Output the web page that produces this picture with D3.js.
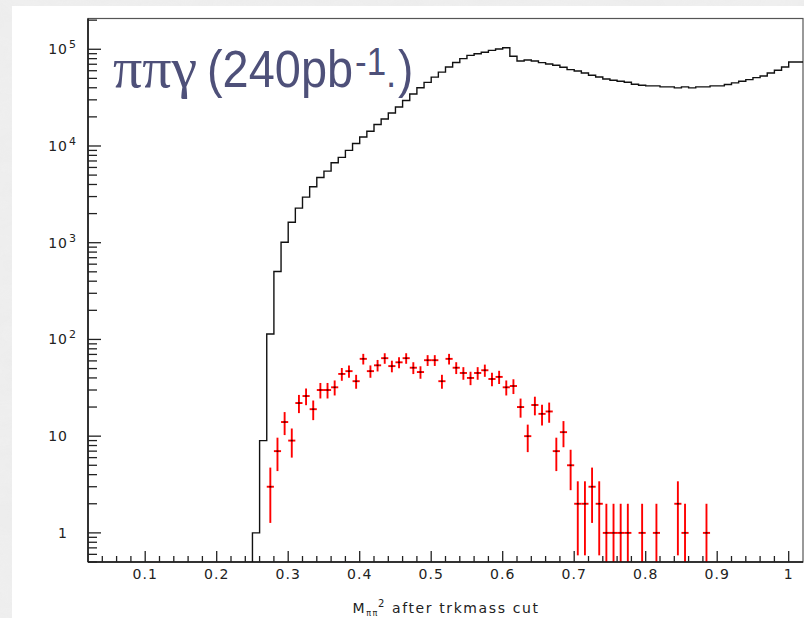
<!DOCTYPE html>
<html><head><meta charset="utf-8">
<script src="https://cdn.jsdelivr.net/npm/d3@7/dist/d3.min.js"></script>
<style>html,body{margin:0;padding:0;background:#e9e9e9;}svg{display:block;}</style>
</head><body>
<script>
// ---------------- data ----------------
const histBinWidth = 0.01;
const histBinLow = [0.25,0.26,0.27,0.28,0.29,0.30,0.31,0.32,0.33,0.34,0.35,0.36,0.37,0.38,0.39,
  0.40,0.41,0.42,0.43,0.44,0.45,0.46,0.47,0.48,0.49,0.50,0.51,0.52,0.53,0.54,0.55,0.56,0.57,0.58,0.59,
  0.60,0.61,0.62,0.63,0.64,0.65,0.66,0.67,0.68,0.69,0.70,0.71,0.72,0.73,0.74,0.75,0.76,0.77,0.78,0.79,
  0.80,0.81,0.82,0.83,0.84,0.85,0.86,0.87,0.88,0.89,0.90,0.91,0.92,0.93,0.94,0.95,0.96,0.97,0.98,0.99,
  1.00,1.01];
const histCounts = [1,9,114,504,1010,1630,2280,2960,3790,4730,5500,6720,7620,9000,10600,
  12400,14200,16700,19000,21900,25300,29500,34500,40000,45500,51500,58000,65500,73000,80000,86500,90000,93000,97500,100500,
  103500,84700,75700,77500,75700,72800,70500,68300,65100,61600,59600,56800,53800,51700,49300,47800,46700,45600,43500,42500,
  41800,41800,40800,40800,39900,40800,39900,40800,40800,41800,41800,43200,44900,46700,48500,50900,53000,56800,60600,65600,
  73900,73900];

const redX = [0.275,0.285,0.295,0.305,0.315,0.325,0.335,0.345,0.355,0.365,0.375,0.385,0.395,0.405,0.415,
  0.425,0.435,0.445,0.455,0.465,0.475,0.485,0.495,0.505,0.515,0.525,0.535,0.545,0.555,0.565,0.575,0.585,
  0.595,0.605,0.615,0.625,0.635,0.645,0.655,0.665,0.675,0.685,0.695,0.705,0.715,0.725,0.735,0.745,0.755,
  0.765,0.775,0.795,0.815,0.845,0.855,0.885];
const redY = [3,7,14,9,22,26,19,30,30,32,44,47,37,63,47,
  54,64,53,58,64,51,46,61,61,37,63,51,45,40,45,48,39,
  41,32,33,20,10,21,17,18,7,11,5,2,2,3,2,1,1,
  1,1,1,1,2,1,1];

const xTickValues = [0.1,0.2,0.3,0.4,0.5,0.6,0.7,0.8,0.9,1];
const xTickLabels = ["0.1","0.2","0.3","0.4","0.5","0.6","0.7","0.8","0.9","1"];
const yTickValues = [1,10,100,1000,10000,100000];
const yTickBase = ["1","10","10","10","10","10"];
const yTickExp = ["","","2","3","4","5"];
const xDomain = [0.02, 1.02];
const yDomain = [0.5, 2.08e5];

// ---------------- layout ----------------
const W = 804, H = 618;
const L = 88, R = 803, T = 18.5, B = 562;

const svg = d3.select("body").append("svg").attr("width", W).attr("height", H);
const defs = svg.append("defs");
const filt = defs.append("filter").attr("id","marble").attr("x",0).attr("y",0).attr("width","100%").attr("height","100%");
filt.append("feTurbulence").attr("type","fractalNoise").attr("baseFrequency","0.015 0.03").attr("numOctaves",3).attr("seed",7);
filt.append("feColorMatrix").attr("type","matrix")
  .attr("values","0 0 0 0 0.9  0 0 0 0 0.9  0 0 0 0 0.9  0.35 0.35 0.35 0 -0.25");
svg.append("rect").attr("width",W).attr("height",H).attr("fill","#ececec");
svg.append("rect").attr("width",W).attr("height",H).attr("fill","#fff").attr("filter","url(#marble)").attr("opacity",0.9);
svg.append("rect").attr("x",12).attr("y",6).attr("width",W-12).attr("height",H-6).attr("fill","#fff");

const x = d3.scaleLinear().domain(xDomain).range([L, R]);
const y = d3.scaleLog().domain(yDomain).range([B, T]);
const yc = v => Math.min(B, Math.max(T, y(Math.max(v, yDomain[0]))));

const clip = defs.append("clipPath").attr("id","plot");
clip.append("rect").attr("x",L).attr("y",T).attr("width",R-L).attr("height",B-T);

// frame
svg.append("rect").attr("x",L).attr("y",T).attr("width",R-L).attr("height",B-T)
  .attr("fill","none").attr("stroke","#555").attr("stroke-width",1.2);

// histogram (black step line)
const g = svg.append("g").attr("clip-path","url(#plot)");
let p = d3.path();
p.moveTo(x(histBinLow[0]), B);
histBinLow.forEach((lo,i)=>{
  p.lineTo(x(lo), yc(histCounts[i]));
  p.lineTo(x(lo + histBinWidth), yc(histCounts[i]));
});
g.append("path").attr("d", p.toString()).attr("fill","none").attr("stroke","#111").attr("stroke-width",1.4);

// red points with errors
const pts = g.append("g");
redX.forEach((cx,i)=>{
  const v = redY[i], e = Math.sqrt(v);
  const px = x(cx), py = y(v);
  pts.append("line").attr("x1",px).attr("x2",px).attr("y1",yc(v+e)).attr("y2",yc(v-e))
    .attr("stroke","#ff0000").attr("stroke-width",1.9);
  pts.append("line").attr("x1",x(cx-histBinWidth/2)).attr("x2",x(cx+histBinWidth/2)).attr("y1",py).attr("y2",py)
    .attr("stroke","#ff0000").attr("stroke-width",1.9);
  pts.append("rect").attr("x",px-1).attr("y",py-0.8).attr("width",2).attr("height",1.6).attr("fill","#400");
});

// axes lines
svg.append("line").attr("x1",L).attr("x2",L).attr("y1",T).attr("y2",B).attr("stroke","#111").attr("stroke-width",1.5);
svg.append("line").attr("x1",L).attr("x2",R).attr("y1",B).attr("y2",B).attr("stroke","#111").attr("stroke-width",1.5);

// x ticks
const xMinor = d3.range(0.04, 1.02, 0.02).filter(v => Math.abs(v*10 - Math.round(v*10)) > 1e-6);
const axg = svg.append("g").attr("stroke","#222").attr("stroke-width",1.3);
xMinor.forEach(v=>{ axg.append("line").attr("x1",x(v)).attr("x2",x(v)).attr("y1",B).attr("y2",B-6); });
xTickValues.forEach(v=>{ axg.append("line").attr("x1",x(v)).attr("x2",x(v)).attr("y1",B).attr("y2",B-11); });
xTickValues.forEach((v,i)=>{
  svg.append("text").attr("x",x(v)).attr("y",579).attr("text-anchor","middle")
    .attr("font-family","DejaVu Sans").attr("font-size",14).attr("letter-spacing",1).attr("fill","#222")
    .text(xTickLabels[i]);
});

// y ticks
const yMinor = [];
[0.1,1,10,100,1000,10000,100000].forEach(d=>{ for(let k=2;k<=9;k++){ const v=k*d; if(v>=yDomain[0]&&v<=yDomain[1]) yMinor.push(v);} });
yMinor.forEach(v=>{ axg.append("line").attr("x1",L).attr("x2",L+9).attr("y1",y(v)).attr("y2",y(v)); });
yTickValues.forEach(v=>{ axg.append("line").attr("x1",L).attr("x2",L+13).attr("y1",y(v)).attr("y2",y(v)); });
yTickValues.forEach((v,i)=>{
  const ty = y(v);
  svg.append("text").attr("x",68).attr("y",ty+5).attr("text-anchor","end")
    .attr("font-family","DejaVu Sans").attr("font-size",14).attr("letter-spacing",1).attr("fill","#222")
    .text(yTickBase[i]);
  if (yTickExp[i]) svg.append("text").attr("x",69).attr("y",ty-1)
    .attr("font-family","DejaVu Sans").attr("font-size",11).attr("fill","#222").text(yTickExp[i]);
});

// x axis title
const xt = svg.append("text").attr("x",446).attr("y",613).attr("text-anchor","middle")
  .attr("font-family","DejaVu Sans").attr("font-size",14).attr("letter-spacing",1.6).attr("fill","#222");
xt.append("tspan").text("M");
xt.append("tspan").attr("font-size",8).attr("dy",3).text("ππ");
xt.append("tspan").attr("font-size",10).attr("dy",-9).attr("dx",-1).text("2");
xt.append("tspan").attr("dy",6).text(" after trkmass cut");

// title
const tc = "#4e5079";
svg.append("text").attr("x",113).attr("y",87).attr("font-family","Liberation Serif").attr("font-size",58).attr("fill",tc).text("ππγ");
svg.append("text").attr("transform","translate(207,87) scale(0.92,1)").attr("font-family","Liberation Sans").attr("font-size",51).attr("fill",tc).text("(240pb");
const sup = svg.append("text").attr("transform","translate(355,75) scale(0.92,1)").attr("font-family","Liberation Sans").attr("fill",tc);
sup.append("tspan").attr("font-size",38).text("-1");
sup.append("tspan").attr("font-size",40).attr("dy",12).text(".");
svg.append("text").attr("transform","translate(398,87) scale(0.9,1)").attr("font-family","Liberation Sans").attr("font-size",51).attr("fill",tc).text(")");
</script>
</body></html>
